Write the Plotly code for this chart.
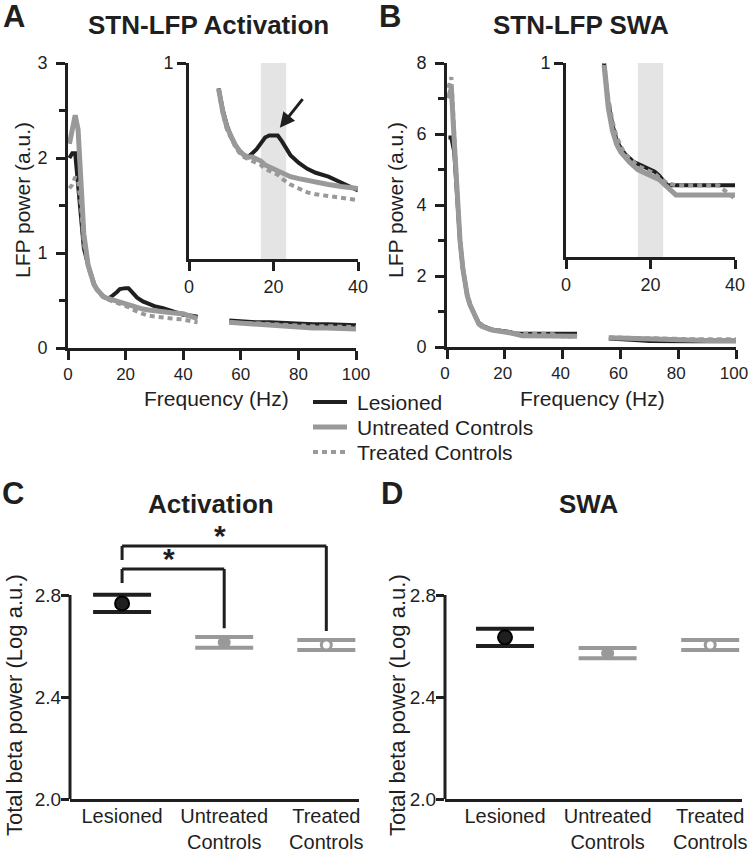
import plotly.graph_objects as go

W, H = 749, 853
BLACK = "#1f1f1f"
GRAY = "#999999"
BAND = "#e4e4e4"
FONT = "Liberation Sans, Arial, sans-serif"

# ---- spectra (LFP power, a.u.) ----
FREQ_LO = [0.5, 1.5, 2.5, 3.5, 4.5, 5.5, 7, 8, 9, 10, 11, 12, 13, 14, 15, 16, 17, 18, 19, 20,
           21, 22, 24, 26, 28, 30, 33, 36, 40, 43, 45]
FREQ_HI = [56, 60, 65, 70, 75, 80, 85, 90, 95, 100]

ACT_LES_LO = [2.00, 2.05, 2.05, 1.75, 1.35, 1.05, 0.87, 0.76, 0.68, 0.62, 0.58, 0.55, 0.53, 0.52, 0.54, 0.56,
              0.59, 0.62, 0.63, 0.63, 0.63, 0.60, 0.53, 0.49, 0.46, 0.44, 0.42, 0.39, 0.35, 0.34, 0.33]
ACT_UNT_LO = [2.15, 2.30, 2.45, 2.30, 1.80, 1.20, 0.87, 0.75, 0.67, 0.62, 0.58, 0.55, 0.53, 0.52, 0.52, 0.51,
              0.50, 0.48, 0.47, 0.46, 0.45, 0.44, 0.42, 0.41, 0.40, 0.39, 0.38, 0.37, 0.36, 0.33, 0.31]
ACT_TRT_LO = [1.68, 1.72, 1.80, 1.75, 1.50, 1.10, 0.86, 0.74, 0.66, 0.61, 0.57, 0.54, 0.52, 0.51, 0.50, 0.49,
              0.48, 0.46, 0.45, 0.44, 0.43, 0.41, 0.38, 0.36, 0.34, 0.33, 0.32, 0.31, 0.30, 0.28, 0.27]
ACT_LES_HI = [0.29, 0.28, 0.27, 0.27, 0.26, 0.25, 0.25, 0.25, 0.24, 0.24]
ACT_UNT_HI = [0.27, 0.26, 0.25, 0.24, 0.23, 0.22, 0.21, 0.21, 0.20, 0.20]
ACT_TRT_HI = [0.27, 0.26, 0.26, 0.25, 0.24, 0.23, 0.23, 0.23, 0.22, 0.22]

SWA_LES_LO = [5.9, 5.9, 5.5, 4.2, 3.0, 2.2, 1.45, 1.18, 1.0, 0.80, 0.68, 0.60, 0.56, 0.53, 0.51, 0.49,
              0.48, 0.47, 0.46, 0.45, 0.44, 0.42, 0.37, 0.37, 0.37, 0.37, 0.37, 0.37, 0.37, 0.37, 0.37]
SWA_UNT_LO = [7.0, 7.3, 5.8, 4.2, 3.0, 2.2, 1.45, 1.18, 0.99, 0.77, 0.65, 0.58, 0.54, 0.51, 0.49, 0.47,
              0.45, 0.44, 0.43, 0.42, 0.41, 0.40, 0.36, 0.32, 0.32, 0.32, 0.32, 0.32, 0.32, 0.31, 0.30]
SWA_TRT_LO = [7.3, 7.6, 6.0, 4.3, 3.0, 2.2, 1.5, 1.22, 1.02, 0.82, 0.70, 0.62, 0.57, 0.53, 0.51, 0.49,
              0.47, 0.46, 0.45, 0.44, 0.43, 0.41, 0.38, 0.37, 0.37, 0.37, 0.37, 0.37, 0.30, 0.29, 0.29]
SWA_LES_HI = [0.24, 0.23, 0.20, 0.17, 0.16, 0.16, 0.16, 0.16, 0.16, 0.16]
SWA_UNT_HI = [0.26, 0.25, 0.22, 0.20, 0.19, 0.19, 0.18, 0.18, 0.18, 0.18]
SWA_TRT_HI = [0.27, 0.26, 0.25, 0.23, 0.22, 0.22, 0.22, 0.22, 0.22, 0.22]

BETA_BAND = [17, 23]

# ---- total beta power (log a.u.) ----
GROUPS = ["Lesioned", "Untreated Controls", "Treated Controls"]
GROUP_TICKS = ["Lesioned", "Untreated<br>Controls", "Treated<br>Controls"]
ACT_MEAN = [2.767, 2.614, 2.604]
ACT_SEM = [0.034, 0.021, 0.020]
SWA_MEAN = [2.634, 2.572, 2.604]
SWA_SEM = [0.034, 0.020, 0.020]
SIG_PAIRS = [(0, 1), (0, 2)]
SIG_LEVELS = [2.902, 2.992]


def pxx(x):
    return x / W


def pxy(y):
    return 1 - y / H


STYLE = {
    "Lesioned": dict(color=BLACK, width=4, dash="solid"),
    "Untreated Controls": dict(color=GRAY, width=5, dash="solid"),
    "Treated Controls": dict(color=GRAY, width=4, dash="5px,4px"),
}
DRAW_ORDER = ["Lesioned", "Treated Controls", "Untreated Controls"]

fig = go.Figure()

spectra = {
    "act": {"Lesioned": (ACT_LES_LO, ACT_LES_HI), "Untreated Controls": (ACT_UNT_LO, ACT_UNT_HI),
            "Treated Controls": (ACT_TRT_LO, ACT_TRT_HI)},
    "swa": {"Lesioned": (SWA_LES_LO, SWA_LES_HI), "Untreated Controls": (SWA_UNT_LO, SWA_UNT_HI),
            "Treated Controls": (SWA_TRT_LO, SWA_TRT_HI)},
}
# (dataset, main axes, inset axes, inset start freq)
panels = [("act", ("x", "y"), ("x2", "y2"), 7), ("swa", ("x3", "y3"), ("x4", "y4"), 9)]

for key, main_ax, inset_ax, f_start in panels:
    for name in DRAW_ORDER:
        lo, hi = spectra[key][name]
        st = STYLE[name]
        fig.add_trace(go.Scatter(
            x=FREQ_LO + [None] + FREQ_HI, y=lo + [None] + hi, mode="lines", name=name,
            line=dict(color=st["color"], width=st["width"], dash=st["dash"]),
            xaxis=main_ax[0], yaxis=main_ax[1], connectgaps=False, hoverinfo="skip"))
        fx = [f for f in FREQ_LO if f_start <= f <= 40]
        fy = [v for f, v in zip(FREQ_LO, lo) if f_start <= f <= 40]
        fig.add_trace(go.Scatter(
            x=fx, y=fy, mode="lines", line=dict(color=st["color"], width=st["width"], dash=st["dash"]),
            xaxis=inset_ax[0], yaxis=inset_ax[1], hoverinfo="skip"))

# ---- group means with SEM ----
marker_style = {
    "Lesioned": dict(color=BLACK, size=14, line=dict(color="#000000", width=2)),
    "Untreated Controls": dict(color=GRAY, size=12, line=dict(color=GRAY, width=1)),
    "Treated Controls": dict(color="white", size=10, line=dict(color=GRAY, width=3)),
}
for means, sems, ax in [(ACT_MEAN, ACT_SEM, ("x5", "y5")), (SWA_MEAN, SWA_SEM, ("x6", "y6"))]:
    for i, g in enumerate(GROUPS):
        col = BLACK if g == "Lesioned" else GRAY
        fig.add_trace(go.Scatter(
            x=[g], y=[means[i]], mode="markers", marker=marker_style[g],
            error_y=dict(type="data", array=[sems[i]], color=col, thickness=4, width=29),
            xaxis=ax[0], yaxis=ax[1], hoverinfo="skip"))

shapes = []
annotations = []

# beta band in insets
for xr, yr in [("x2", "y2"), ("x4", "y4")]:
    shapes.append(dict(type="rect", xref=xr, yref=yr, x0=BETA_BAND[0], x1=BETA_BAND[1], y0=0, y1=1,
                       fillcolor=BAND, line=dict(width=0), layer="below"))

# y axis lines of C and D only reach 2.8
for xr, yr in [("x5 domain", "y5"), ("x6 domain", "y6")]:
    shapes.append(dict(type="line", xref=xr, yref=yr, x0=0, x1=0, y0=2.0, y1=2.8,
                       line=dict(color=BLACK, width=3)))

# significance brackets (C)
for (a, b), lvl in zip(SIG_PAIRS, SIG_LEVELS):
    left_bottom = lvl - 0.055
    right_bottom = ACT_MEAN[b] + ACT_SEM[b] + 0.035
    for x0, y0, x1, y1 in [(a, left_bottom, a, lvl), (a, lvl, b, lvl), (b, lvl, b, right_bottom)]:
        shapes.append(dict(type="line", xref="x5", yref="y5", x0=x0, x1=x1, y0=y0, y1=y1,
                           line=dict(color=BLACK, width=3)))
    annotations.append(dict(x=(a + b) / 2, y=lvl, xref="x5", yref="y5", text="<b>*</b>",
                            showarrow=False, yanchor="bottom", yshift=-8, xshift=-4,
                            font=dict(size=30, color=BLACK, family=FONT)))

# arrow at the beta peak
annotations.append(dict(x=21.5, y=0.67, xref="x2", yref="y2", ax=24, ay=-30, text="",
                        showarrow=True, arrowhead=2, arrowsize=1, arrowwidth=3, arrowcolor=BLACK))


def label(text, x, y, size, bold=False, angle=0, xanchor="center"):
    annotations.append(dict(text=f"<b>{text}</b>" if bold else text, x=pxx(x), y=pxy(y),
                            xref="paper", yref="paper", showarrow=False, textangle=angle,
                            xanchor=xanchor, yanchor="middle",
                            font=dict(size=size, color=BLACK, family=FONT)))


# legend (drawn by hand to match the tight row spacing)
for i, name in enumerate(GROUPS):
    yrow = 402 + 25 * i
    st = STYLE[name]
    shapes.append(dict(type="line", xref="paper", yref="paper", x0=pxx(313), x1=pxx(347),
                       y0=pxy(yrow), y1=pxy(yrow),
                       line=dict(color=st["color"], width=st["width"], dash=st["dash"])))
    label(name, 355, yrow, 21, xanchor="left")

for t, x, y in [("A", 14, 17), ("B", 390, 17), ("C", 13, 494), ("D", 392, 494)]:
    label(t, x, y, 31, bold=True)
for t, x, y in [("STN-LFP Activation", 208, 25), ("STN-LFP SWA", 581, 25),
                ("Activation", 211, 504), ("SWA", 588, 504)]:
    label(t, x, y, 26, bold=True)
label("LFP power (a.u.)", 22, 200, 21, angle=-90)
label("LFP power (a.u.)", 395, 200, 21, angle=-90)
label("Frequency (Hz)", 216, 398, 21)
label("Frequency (Hz)", 592, 398, 21)
label("Total beta power (Log a.u.)", 14, 705, 22, angle=-90)
label("Total beta power (Log a.u.)", 397, 705, 22, angle=-90)

AX = dict(showline=True, linewidth=3, linecolor=BLACK, ticks="outside", tickwidth=3, ticklen=9,
          tickcolor=BLACK, showgrid=False, zeroline=False, automargin=False, ticklabeloverflow="allow",
          tickfont=dict(size=18, color=BLACK, family=FONT))
FREQ_X = dict(range=[0, 100], tickvals=[0, 20, 40, 60, 80, 100], tickfont=dict(size=17, color=BLACK, family=FONT))
MINOR = dict(ticks="outside", ticklen=6, tickwidth=3, tickcolor=BLACK, showgrid=False)
CAT = dict(type="category", categoryorder="array", categoryarray=GROUPS, tickvals=GROUPS,
           ticktext=GROUP_TICKS, ticks="", ticklabelstandoff=-3,
           tickfont=dict(size=20, color=BLACK, family=FONT))
BETA_Y = dict(range=[2.0, 3.05], tickvals=[2.0, 2.4, 2.8], tickformat=".1f", showline=False, ticklen=8,
              ticklabelstandoff=-4, tickfont=dict(size=19, color=BLACK, family=FONT))

ymain = [pxy(348), pxy(63)]
ycd = [pxy(799), pxy(799 - 1.05 * 255)]

fig.update_layout(
    width=W, height=H, template="none", margin=dict(l=0, r=0, t=0, b=0),
    paper_bgcolor="white", plot_bgcolor="rgba(0,0,0,0)",
    font=dict(family=FONT, color=BLACK),
    shapes=shapes, annotations=annotations, showlegend=False,
    xaxis=dict(AX, **FREQ_X, domain=[pxx(68), pxx(356)], anchor="y"),
    yaxis=dict(AX, domain=ymain, range=[0, 3], dtick=1, minor=dict(MINOR, dtick=0.5), anchor="x",
               ticklabelstandoff=5),
    xaxis2=dict(AX, domain=[pxx(189), pxx(358)], range=[0, 40], tickvals=[0, 20, 40], anchor="y2"),
    yaxis2=dict(AX, domain=[pxy(259), pxy(63)], range=[0, 1], tickvals=[1], anchor="x2"),
    xaxis3=dict(AX, **FREQ_X, domain=[pxx(447), pxx(736)], anchor="y3", ticklabelshift=-2),
    yaxis3=dict(AX, domain=[pxy(347), pxy(63)], range=[0, 8], dtick=2, minor=dict(MINOR, dtick=1), anchor="x3",
                ticklabelstandoff=5),
    xaxis4=dict(AX, domain=[pxx(566), pxx(735)], range=[0, 40], tickvals=[0, 20, 40], anchor="y4"),
    yaxis4=dict(AX, domain=[pxy(257), pxy(63)], range=[0, 1], tickvals=[1], anchor="x4"),
    xaxis5=dict(AX, **CAT, domain=[pxx(70), pxx(359)], range=[-0.51, 2.32], anchor="y5"),
    yaxis5=dict(AX, **BETA_Y, domain=ycd, anchor="x5"),
    xaxis6=dict(AX, **CAT, domain=[pxx(445), pxx(742)], range=[-0.585, 2.31], anchor="y6"),
    yaxis6=dict(AX, **BETA_Y, domain=ycd, anchor="x6"),
)

# the page is photographed at exactly the figure size, so drop the default body margin
fig.write_html("out.html", config={"displayModeBar": False},
               post_script="document.body.style.margin='0px';")
